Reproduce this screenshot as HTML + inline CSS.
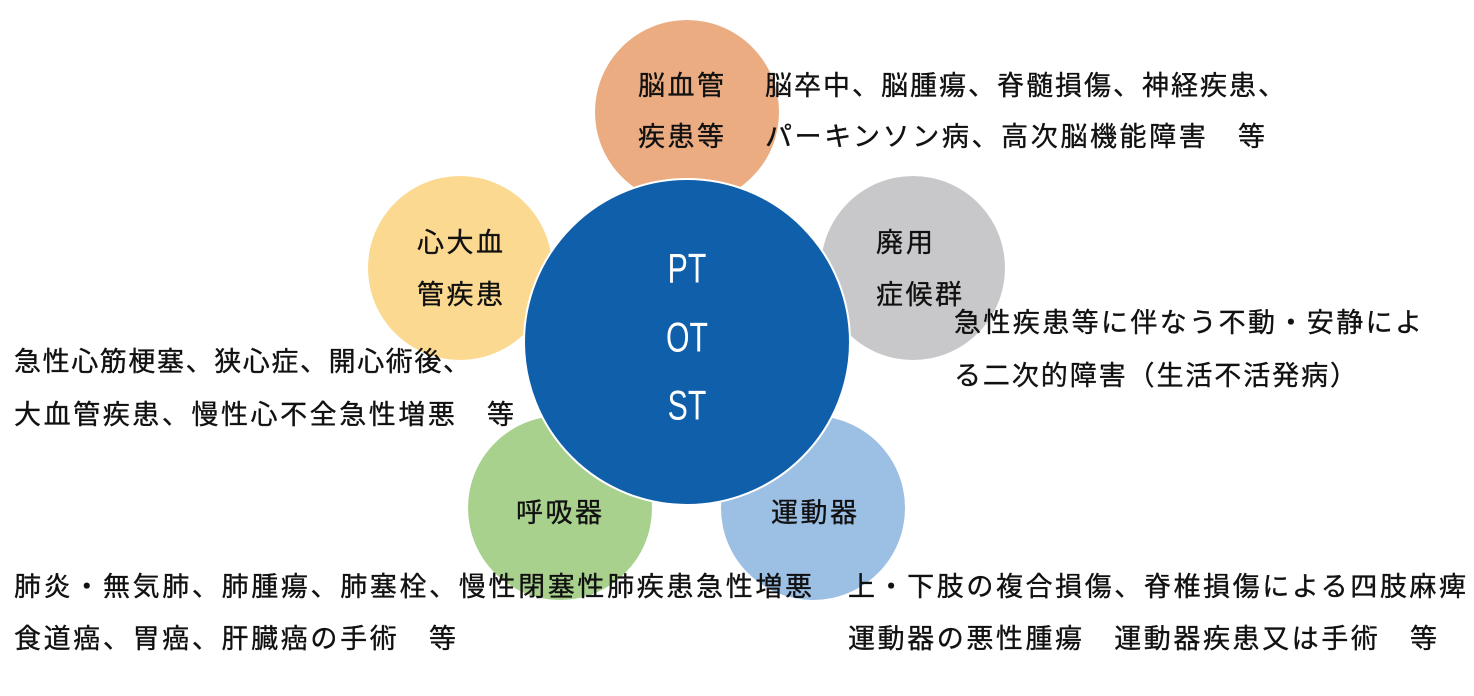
<!DOCTYPE html>
<html><head><meta charset="utf-8"><style>
html,body{margin:0;padding:0;background:#fff;}
svg{display:block;}
text{font-family:"Liberation Sans","Noto Sans CJK JP",sans-serif;font-size:27px;fill:#111;stroke:#111;stroke-width:0.35;dominant-baseline:central;}
.c{text-anchor:middle;}
.w{fill:#fff;stroke:none;font-family:"Liberation Sans Narrow","Liberation Sans",sans-serif;font-size:42px;}
</style></head><body>
<svg width="1474" height="696" viewBox="0 0 1474 696">
<circle cx="687" cy="112" r="92" fill="#EBAC82"/>
<circle cx="460" cy="268" r="92" fill="#FBD990"/>
<circle cx="913" cy="268" r="92" fill="#C8C8CA"/>
<circle cx="560" cy="508" r="92" fill="#A8D18E"/>
<circle cx="813" cy="508" r="92" fill="#9CBFE4"/>
<circle cx="687" cy="342" r="163" fill="#105FAB" stroke="#fff" stroke-width="2"/>
<text class="w c" x="687" y="268" transform="translate(687 0) scale(0.72 1) translate(-687 0)">PT</text>
<text class="w c" x="687" y="337" transform="translate(687 0) scale(0.72 1) translate(-687 0)">OT</text>
<text class="w c" x="687" y="405" transform="translate(687 0) scale(0.72 1) translate(-687 0)">ST</text>
<text x="638" y="86" textLength="86" lengthAdjust="spacing">脳血管</text>
<text x="638" y="137" textLength="86" lengthAdjust="spacing">疾患等</text>
<text x="765" y="86" textLength="520" lengthAdjust="spacing">脳卒中、脳腫瘍、脊髄損傷、神経疾患、</text>
<text x="765" y="137" textLength="500" lengthAdjust="spacing">パーキンソン病、高次脳機能障害　等</text>
<text x="417" y="243" textLength="86" lengthAdjust="spacing">心大血</text>
<text x="417" y="295" textLength="86" lengthAdjust="spacing">管疾患</text>
<text x="876" y="243" textLength="57" lengthAdjust="spacing">廃用</text>
<text x="876" y="295" textLength="86" lengthAdjust="spacing">症候群</text>
<text x="954" y="323" textLength="468" lengthAdjust="spacing">急性疾患等に伴なう不動・安静によ</text>
<text x="954" y="376" textLength="403" lengthAdjust="spacing">る二次的障害（生活不活発病）</text>
<text x="14" y="362" textLength="456" lengthAdjust="spacing">急性心筋梗塞、狭心症、開心術後、</text>
<text x="14" y="415" textLength="500" lengthAdjust="spacing">大血管疾患、慢性心不全急性増悪　等</text>
<text x="516" y="513" textLength="86" lengthAdjust="spacing">呼吸器</text>
<text x="771" y="513" textLength="86" lengthAdjust="spacing">運動器</text>
<text x="14" y="587" textLength="798" lengthAdjust="spacing">肺炎・無気肺、肺腫瘍、肺塞栓、慢性閉塞性肺疾患急性増悪</text>
<text x="14" y="639" textLength="442" lengthAdjust="spacing">食道癌、胃癌、肝臓癌の手術　等</text>
<text x="848" y="587" textLength="618" lengthAdjust="spacing">上・下肢の複合損傷、脊椎損傷による四肢麻痺</text>
<text x="848" y="639" textLength="589" lengthAdjust="spacing">運動器の悪性腫瘍　運動器疾患又は手術　等</text>
</svg>
</body></html>
